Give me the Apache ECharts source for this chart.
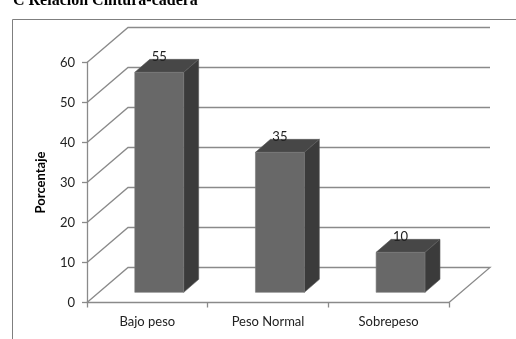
<!DOCTYPE html>
<html><head><meta charset="utf-8">
<script src="https://cdn.jsdelivr.net/npm/echarts@6/dist/echarts.min.js"></script>
<style>html,body{margin:0;padding:0;background:#fff}#chart{width:516px;height:339px}</style>
</head><body><div id="chart"></div>
<script>
// Data
const categories = ['Bajo peso', 'Peso Normal', 'Sobrepeso'];
const values = [55, 35, 10];
const yTicks = [0, 10, 20, 30, 40, 50, 60];
const titleText = 'C Relación Cintura-cadera';

// 3D look: walls recede up/right, bars sit part-way into the depth
const DEPTH_X = 41, DEPTH_Y = 35;
const BAR_POS = 0.29;          // fraction of depth where the bar front sits
const BAR_DX = 15, BAR_DY = 13;  // bar depth
const GRID_COLOR = '#8a8a8a';
const FONT = 'Lato, "Open Sans", sans-serif';

const chart = echarts.init(document.getElementById('chart'), null, {renderer: 'canvas'});

function bandEdges(api, v) {
  const band = api.size([1, 0])[0];
  const l = api.coord([0, v]);
  const r = api.coord([categories.length - 1, v]);
  return {left: l[0] - band / 2, right: r[0] + band / 2, y: l[1]};
}

// back wall + side wall gridlines and floor outline
function renderWall(params, api) {
  const v = api.value(1);
  const e = bandEdges(api, v);
  const pts = [[e.left, e.y], [e.left + DEPTH_X, e.y - DEPTH_Y], [e.right + DEPTH_X, e.y - DEPTH_Y]];
  if (v === 0) pts.push([e.right, e.y]);
  return {
    type: 'polyline',
    shape: {points: pts},
    style: {stroke: GRID_COLOR, lineWidth: 1.3, fill: null}
  };
}

function renderBar(params, api) {
  const i = api.value(0), v = api.value(1);
  const base = api.coord([i, 0]);
  const top = api.coord([i, v]);
  const band = api.size([1, 0])[0];
  const w = band * 0.405;
  const ox = DEPTH_X * BAR_POS, oy = DEPTH_Y * BAR_POS;
  const x0 = base[0] - w / 2 + ox, x1 = x0 + w;
  const yb = base[1] - oy, yt = top[1] - oy;
  return {
    type: 'group',
    children: [
      {type: 'polygon', shape: {points: [[x1, yt], [x1 + BAR_DX, yt - BAR_DY], [x1 + BAR_DX, yb - BAR_DY], [x1, yb]]},
       style: {fill: '#3b3b3b', stroke: '#555', lineWidth: 0.6}},
      {type: 'polygon', shape: {points: [[x0, yt], [x0 + BAR_DX, yt - BAR_DY], [x1 + BAR_DX, yt - BAR_DY], [x1, yt]]},
       style: {fill: '#474747', stroke: '#5a5a5a', lineWidth: 0.6}},
      {type: 'rect', shape: {x: x0, y: yt, width: w, height: yb - yt},
       style: {fill: '#686868', stroke: '#7a7a7a', lineWidth: 0.6}},
      {type: 'text', x: x0 + w / 2, y: yt - 16,
       style: {text: String(v), fill: '#222', font: '13px ' + FONT, align: 'center', verticalAlign: 'middle'}}
    ]
  };
}

chart.setOption({
  animation: false,
  backgroundColor: '#fff',
  graphic: [
    {type: 'rect', left: 10, top: 17, shape: {x: 0, y: 0, width: 700, height: 500},
     style: {fill: null, stroke: '#7f7f7f', lineWidth: 1}, z: -1},
    {type: 'text', left: 13, top: -7,
     style: {text: titleText, font: 'bold 16px "Liberation Serif", serif', fill: '#000'}}
  ],
  grid: {left: 87, right: 67, top: 62.5, bottom: 36.5},
  xAxis: {
    type: 'category', data: categories, boundaryGap: true,
    axisLine: {lineStyle: {color: GRID_COLOR, width: 1.3}},
    axisTick: {show: true, length: 5, lineStyle: {color: GRID_COLOR, width: 1.3}},
    axisLabel: {color: '#222', fontSize: 13, fontFamily: FONT, margin: 13},
    splitLine: {show: false}
  },
  yAxis: {
    type: 'value', min: 0, max: 60, interval: 10,
    name: 'Porcentaje', nameLocation: 'middle', nameGap: 40, nameRotate: 90,
    nameTextStyle: {fontWeight: 'bold', fontSize: 13, fontFamily: FONT, color: '#000'},
    axisLine: {show: true, lineStyle: {color: GRID_COLOR, width: 1.3}},
    axisTick: {show: true, length: 5, lineStyle: {color: GRID_COLOR, width: 1.3}},
    axisLabel: {color: '#222', fontSize: 13, fontFamily: FONT, margin: 12,
                formatter: v => yTicks.includes(v) ? String(v) : ''},
    splitLine: {show: false}
  },
  series: [
    {type: 'custom', renderItem: renderWall, data: yTicks.map(v => [0, v]), z: 1, silent: true, clip: false},
    {type: 'custom', renderItem: renderBar, data: values.map((v, i) => [i, v]), z: 2, clip: false}
  ]
});
</script></body></html>
